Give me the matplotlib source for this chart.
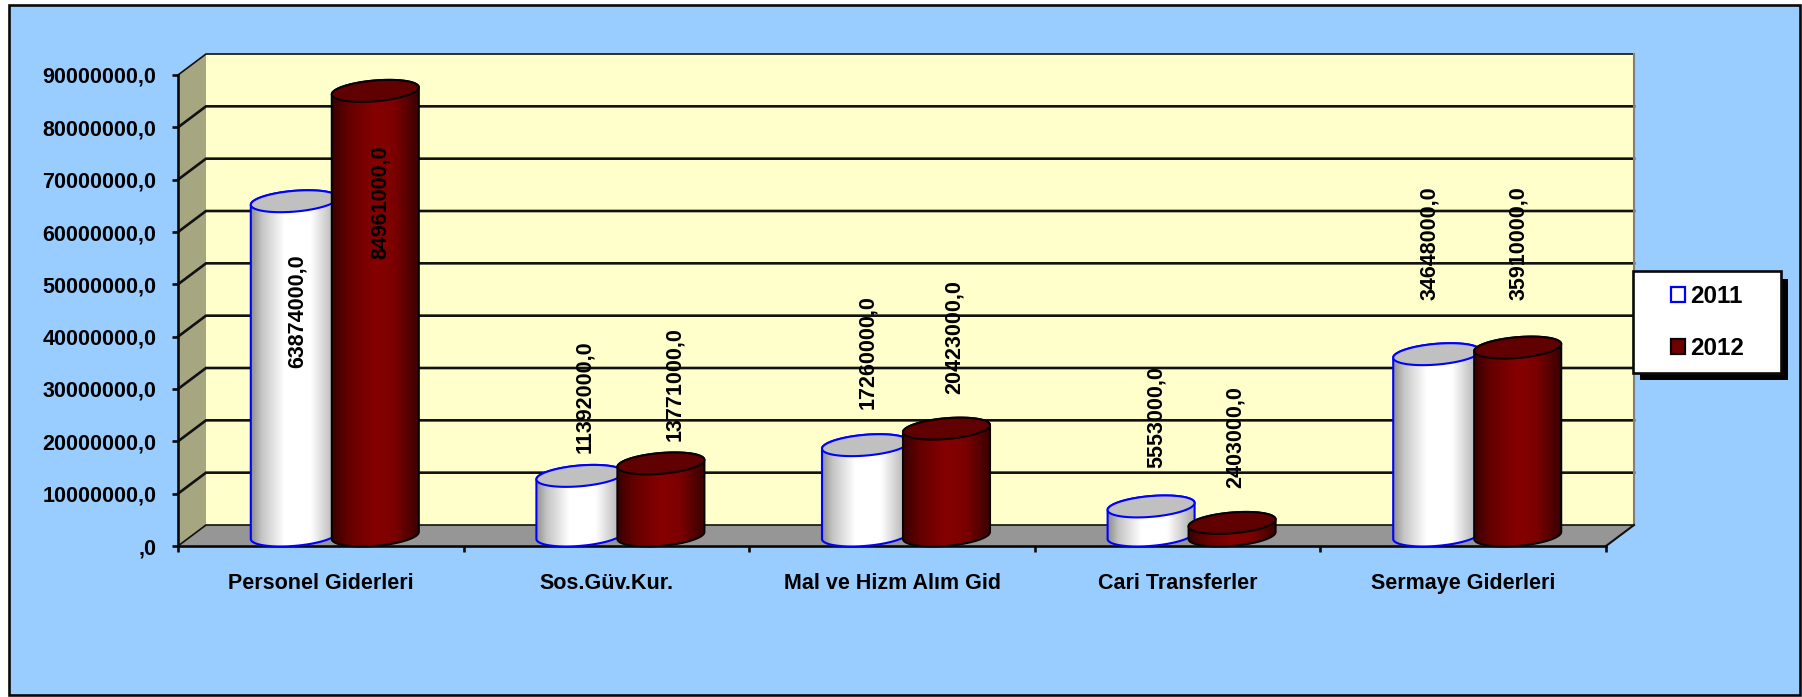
import numpy as np
import matplotlib
matplotlib.use("Agg")
import matplotlib.pyplot as plt
from matplotlib.colors import LinearSegmentedColormap
from matplotlib.patches import Patch, Polygon, Rectangle

# ---- data ----
categories = ["Personel Giderleri", "Sos.Güv.Kur.", "Mal ve Hizm Alım Gid",
              "Cari Transferler", "Sermaye Giderleri"]
series_names = ["2011", "2012"]
values_2011 = [63874000, 11392000, 17260000, 5553000, 34648000]
values_2012 = [84961000, 13771000, 20423000, 2403000, 35910000]
labels_2011 = ["63874000,0", "11392000,0", "17260000,0", "5553000,0", "34648000,0"]
labels_2012 = ["84961000,0", "13771000,0", "20423000,0", "2403000,0", "35910000,0"]
ytick_values = [0, 10000000, 20000000, 30000000, 40000000, 50000000,
                60000000, 70000000, 80000000, 90000000]
ytick_labels = [",0", "10000000,0", "20000000,0", "30000000,0", "40000000,0",
                "50000000,0", "60000000,0", "70000000,0", "80000000,0", "90000000,0"]

# ---- layout (pixels in the figure) ----
W, H = 1802, 697
AX_L, AX_R, AX_T, AX_B = 178, 1606, 75, 546
DEPTH_PX_X, DEPTH_PX_Y = 28, 21
BAR_OFFSET_PX = 40.5
BAR_RADIUS_PX = 43.5
ELL_B_PX, ELL_TILT_PX = 10.4, 3.5
# hand-placed data labels: (horizontal shift, rise of label centre above the bar top)
label_shift_2011 = [(2.5, -109.5), (5, 79), (2.5, 93), (5, 89), (-6.7, 111)]
label_shift_2012 = [(5.5, -111), (14, 79), (7.5, 92), (3, 86), (1.3, 104.6)]

plt.rcParams["font.family"] = ["Liberation Sans", "DejaVu Sans"]
plt.rcParams["font.weight"] = "bold"
FONT = 15.5
LW = 1.9


def fx(px):
    return px / W


def fy(px):
    return 1 - px / H


fig = plt.figure(figsize=(W / 100, H / 100), dpi=100, facecolor="white")
fig.add_artist(Rectangle((fx(9), fy(695)), fx(1791), 690 / H, transform=fig.transFigure,
                         facecolor="#99CCFF", edgecolor="#0a0a0a", lw=1.9, zorder=-5))

ax = fig.add_axes([fx(AX_L), fy(AX_B), (AX_R - AX_L) / W, (AX_B - AX_T) / H])
ax.patch.set_visible(False)
XMAX, YMAX = len(categories), ytick_values[-1]
PX_X = XMAX / (AX_R - AX_L)
PX_Y = YMAX / (AX_B - AX_T)
DX, DY = DEPTH_PX_X * PX_X, DEPTH_PX_Y * PX_Y

# walls and floor
ax.fill([0, DX, DX, 0], [0, DY, YMAX + DY, YMAX], color="#A6A681", clip_on=False, zorder=1, lw=0)
ax.fill([DX, XMAX + DX, XMAX + DX, DX], [DY, DY, YMAX + DY, YMAX + DY],
        color="#FFFFCC", clip_on=False, zorder=1, lw=0)
ax.fill([0, XMAX, XMAX + DX, DX], [0, 0, DY, DY], color="#969696", clip_on=False, zorder=1, lw=0)

# gridlines across side wall and back wall
for v in ytick_values:
    ax.plot([0, DX, XMAX + DX], [v, v + DY, v + DY], color="#111111",
            lw=LW if 0 < v < YMAX else 1.2, clip_on=False, zorder=2, solid_joinstyle="miter")
ax.plot([XMAX + DX, XMAX + DX], [DY, YMAX + DY], color="#808080", lw=1.5, clip_on=False, zorder=2)
ax.plot([XMAX, XMAX + DX], [0, DY], color="#111111", lw=1.5, clip_on=False, zorder=2)

cmap_white = LinearSegmentedColormap.from_list(
    "w", [(0, "#8e8e8e"), (0.12, "#c4c4c4"), (0.38, "#ffffff"), (0.68, "#ffffff"), (1, "#a8a8a8")])
cmap_red = LinearSegmentedColormap.from_list(
    "r", [(0, "#380000"), (0.2, "#660000"), (0.5, "#860000"), (0.72, "#7c0000"), (1, "#380000")])
ramp = np.linspace(0, 1, 256).reshape(1, -1)
t_low = np.linspace(np.pi, 2 * np.pi, 80)
t_up = np.linspace(0, np.pi, 80)
t_all = np.linspace(0, 2 * np.pi, 160)
a = BAR_RADIUS_PX * PX_X
b = ELL_B_PX * PX_Y
s = ELL_TILT_PX * PX_Y


def ellipse(cx, cy, t):
    return cx + a * np.cos(t), cy + b * np.sin(t) + s * np.cos(t)


def cylinder(cx, value, cmap, edge, top_color, z):
    base = DY / 2
    top = value + DY / 2
    xl, yl = ellipse(cx, base, t_low)
    xu, yu = ellipse(cx, top, t_up)
    body = Polygon(np.column_stack([np.r_[xl, xu], np.r_[yl, yu]]), closed=True,
                   facecolor="none", edgecolor=edge, lw=1.5, zorder=z + 0.2, clip_on=False)
    ax.add_patch(body)
    im = ax.imshow(ramp, cmap=cmap, vmin=0, vmax=1, aspect="auto", interpolation="bilinear",
                   extent=[cx - a, cx + a, 0, top + b + s], zorder=z + 0.1)
    im.set_clip_path(body)
    xt, yt = ellipse(cx, top, t_all)
    ax.add_patch(Polygon(np.column_stack([xt, yt]), closed=True, facecolor=top_color,
                         edgecolor=edge, lw=1.5, zorder=z + 0.3, clip_on=False))


for i in range(XMAX):
    cx = i + 0.5 + DX / 2
    x_w = cx - BAR_OFFSET_PX * PX_X
    x_r = cx + BAR_OFFSET_PX * PX_X
    z = 3 + i
    cylinder(x_w, values_2011[i], cmap_white, "#0000FF", "#C0C0C0", z)
    cylinder(x_r, values_2012[i], cmap_red, "#0a0000", "#600000", z + 0.5)
    for xb, val, txt, shift in ((x_w, values_2011[i], labels_2011[i], label_shift_2011[i]),
                                (x_r, values_2012[i], labels_2012[i], label_shift_2012[i])):
        ax.annotate(txt, xy=(xb, val + DY / 2), xytext=shift, textcoords="offset pixels",
                    rotation=90, ha="center", va="center", fontsize=FONT, color="black", zorder=20)

ax.set_xlim(0, XMAX)
ax.set_ylim(0, YMAX)
for side in ("top", "right"):
    ax.spines[side].set_visible(False)
for side in ("left", "bottom"):
    ax.spines[side].set_linewidth(LW)
    ax.spines[side].set_color("#0a0a0a")
    ax.spines[side].set_zorder(2.5)
ax.set_yticks(ytick_values, ytick_labels, fontsize=FONT)
ax.set_xticks(range(XMAX + 1), [""] * (XMAX + 1))
ax.set_xticks(np.arange(XMAX) + 0.5, categories, minor=True, fontsize=FONT)
ax.tick_params(axis="y", length=4.2, width=LW, pad=11.5, color="#0a0a0a")
ax.tick_params(axis="x", which="major", length=4.5, width=LW, color="#0a0a0a")
ax.tick_params(axis="x", which="minor", length=0, pad=19.5)

# legend box with hard shadow
fig.add_artist(Rectangle((fx(1640), fy(380)), 148 / W, 101 / H, transform=fig.transFigure,
                         facecolor="black", edgecolor="black", lw=0, zorder=3))
fig.add_artist(Rectangle((fx(1633), fy(373)), 148 / W, 102 / H, transform=fig.transFigure,
                         facecolor="white", edgecolor="#0a0a0a", lw=1.9, zorder=4))
handles = [Patch(facecolor="white", edgecolor="#0000FF", lw=1.6),
           Patch(facecolor="#700000", edgecolor="#0a0000", lw=1.6)]
fig.legend(handles, series_names, loc="upper left", bbox_to_anchor=(fx(1670.5), fy(285)),
           bbox_transform=fig.transFigure, frameon=False, borderpad=0, borderaxespad=0,
           prop={"size": 17.4, "weight": "bold"}, handlelength=0.58, handleheight=0.58,
           handletextpad=0.25, labelspacing=1.2)

fig.savefig("out.png", dpi=100, facecolor=fig.get_facecolor())
